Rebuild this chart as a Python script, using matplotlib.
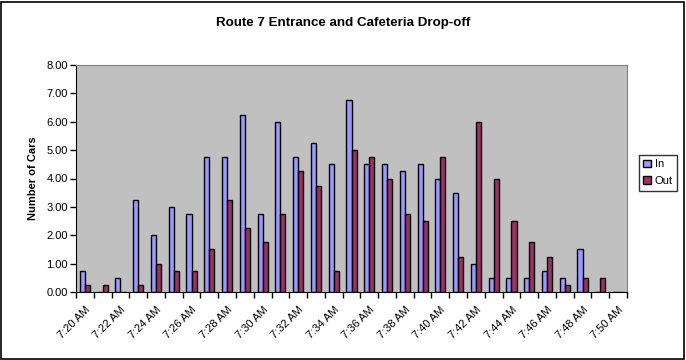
import matplotlib
matplotlib.use('Agg')
import matplotlib.pyplot as plt
from matplotlib.patches import Rectangle
import numpy as np

plt.rcParams['font.family'] = ['Liberation Sans', 'DejaVu Sans']

# one category per minute, 7:20 .. 7:50
times = ['7:%02d AM' % m for m in range(20, 51)]
cars_in = [0.75, 0, 0.5, 3.25, 2.0, 3.0, 2.75, 4.75, 4.75, 6.25, 2.75,
           6.0, 4.75, 5.25, 4.5, 6.75, 4.5, 4.5, 4.25, 4.5, 4.0,
           3.5, 1.0, 0.5, 0.5, 0.5, 0.75, 0.5, 1.5, 0, 0]
cars_out = [0.25, 0.25, 0, 0.25, 1.0, 0.75, 0.75, 1.5, 3.25, 2.25, 1.75,
            2.75, 4.25, 3.75, 0.75, 5.0, 4.75, 4.0, 2.75, 2.5, 4.75,
            1.25, 6.0, 4.0, 2.5, 1.75, 1.25, 0.25, 0.5, 0.5, 0]

W, H = 686, 360
fig = plt.figure(figsize=(W / 100, H / 100), dpi=100)
fig.patch.set_facecolor('white')
fig.patches.append(Rectangle((1 / W, 1 / H), 1 - 3 / W, 1 - 3 / H, transform=fig.transFigure,
                             fill=False, edgecolor='black', linewidth=1.2))

ax = fig.add_axes([76 / W, 1 - 292 / H, (627 - 76) / W, (292 - 65) / H])
ax.set_facecolor('#C0C0C0')
for s in ['top', 'right']:
    ax.spines[s].set_color('#808080')
for s in ['left', 'bottom']:
    ax.spines[s].set_color('black')

x = np.arange(len(times))
bw = 1 / 3.5
ax.bar(x - bw / 2, cars_in, bw, color='#9999FF', edgecolor='black', linewidth=1, label='In')
ax.bar(x + bw / 2, cars_out, bw, color='#993366', edgecolor='black', linewidth=1, label='Out')

ax.set_xlim(-0.5, len(times) - 0.5)
ax.set_ylim(0, 8)
ax.set_yticks(np.arange(0, 9, 1))
ax.set_yticklabels(['%.2f' % v for v in np.arange(0, 9, 1)], fontsize=8)
ax.tick_params(axis='y', direction='out', length=4, width=1, pad=2)

ax.set_xticks(x[::2])
ax.set_xticklabels(times[::2], rotation=45, ha='right', rotation_mode='anchor', fontsize=8)
ax.set_xticks(np.arange(-0.5, len(times), 1), minor=True)
ax.tick_params(axis='x', which='major', length=0, pad=9)
ax.tick_params(axis='x', which='minor', direction='out', length=4, width=1)

ax.set_ylabel('Number of Cars', fontsize=8, fontweight='bold', labelpad=6)
fig.text(0.5, 1 - 23 / H, 'Route 7 Entrance and Cafeteria Drop-off', ha='center', va='center',
         fontsize=9.6, fontweight='bold')

leg = fig.legend(loc='upper left', bbox_to_anchor=(639 / W, 1 - 155 / H), fontsize=8,
                 frameon=True, fancybox=False, edgecolor='black', handlelength=0.7,
                 handleheight=0.7, handletextpad=0.3, borderpad=0.4, labelspacing=0.6,
                 borderaxespad=0)
leg.get_frame().set_linewidth(1)

fig.savefig('out.png', dpi=100, facecolor='white')
